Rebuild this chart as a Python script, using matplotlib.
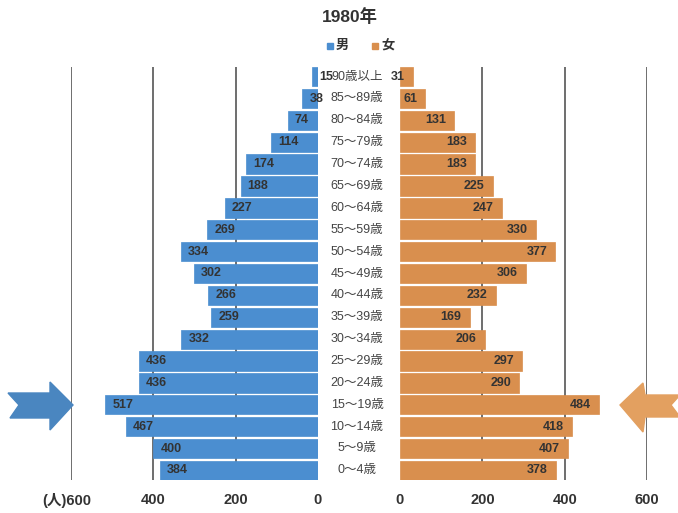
import matplotlib
matplotlib.use("Agg")
import matplotlib.pyplot as plt
from matplotlib.patches import Polygon
from matplotlib.transforms import ScaledTranslation

plt.rcParams['font.family'] = ['Liberation Sans', 'Noto Sans CJK JP', 'DejaVu Sans']

# Population by age group, 1980 (persons)
age_groups = ["0～4歳", "5～9歳", "10～14歳", "15～19歳", "20～24歳", "25～29歳",
              "30～34歳", "35～39歳", "40～44歳", "45～49歳", "50～54歳", "55～59歳",
              "60～64歳", "65～69歳", "70～74歳", "75～79歳", "80～84歳", "85～89歳",
              "90歳以上"]
male = [384, 400, 467, 517, 436, 436, 332, 259, 266, 302, 334, 269,
        227, 188, 174, 114, 74, 38, 15]
female = [378, 407, 418, 484, 290, 297, 206, 169, 232, 306, 377, 330,
          247, 225, 183, 183, 131, 61, 31]
tick_values = [0, 200, 400, 600]
title = "1980年"
legend_labels = ["男", "女"]

W, H = 678, 513
fig = plt.figure(figsize=(W / 100, H / 100), dpi=100)
fig.patch.set_facecolor("white")

blue = "#4b8ed0"
orange = "#d98f4e"
txt = "#333333"
grid_c = "#555555"

ax_top, ax_bot = 67, 480
ax_h = (ax_bot - ax_top) / H
ax_b = (H - ax_bot) / H
axL = fig.add_axes([71 / W, ax_b, (318 - 71) / W, ax_h])
axR = fig.add_axes([400 / W, ax_b, (647 - 400) / W, ax_h])

bh = 0.88
ypos = list(range(len(age_groups)))
for ax, vals, col in ((axL, male, blue), (axR, female, orange)):
    ax.barh(ypos, vals, height=bh, color=col, edgecolor=col, linewidth=0.5, zorder=2)
    ax.set_xlim(0, 600)
    ax.set_ylim(-bh / 2, len(age_groups) - 1 + bh / 2)
    for v in tick_values[1:]:
        ax.axvline(v, color=grid_c, lw=1.2, zorder=1)
    ax.set_xticks(tick_values)
    ax.set_yticks([])
    for s in ax.spines.values():
        s.set_visible(False)
    ax.tick_params(axis="x", length=0, pad=9, labelsize=10.5, labelcolor=txt)
    for lab in ax.get_xticklabels():
        lab.set_fontweight("bold")
axL.invert_xaxis()
axL.set_xticklabels(["0", "200", "400", "(人)600"])
for lab in axL.get_xticklabels():
    lab.set_fontweight("bold")
labs = axL.get_xticklabels()
labs[-1].set_transform(labs[-1].get_transform() + ScaledTranslation(-4 / 100, 0, fig.dpi_scale_trans))

# value labels
for y, v in zip(ypos, male):
    axL.text(v, y, str(v), ha="left", va="center", fontsize=9, fontweight="bold", color=txt,
             transform=axL.transData + ScaledTranslation(7 / 100, 0, fig.dpi_scale_trans), zorder=3)
for y, v in zip(ypos, female):
    axR.text(v, y, str(v), ha="right", va="center", fontsize=9, fontweight="bold", color=txt,
             transform=axR.transData + ScaledTranslation(-8 / 100, 0, fig.dpi_scale_trans), zorder=3)

# age group labels in the centre
row_h = (ax_bot - ax_top) / (len(age_groups) - 1 + bh)
for y, name in zip(ypos, age_groups):
    ypx = ax_bot - (y + bh / 2) * row_h
    fig.text(357 / W, 1 - ypx / H, name, ha="center", va="center", fontsize=9, color="#444444")

# title and legend
fig.text(350 / W, 1 - 17 / H, title, ha="center", va="center", fontsize=12.5, fontweight="bold", color=txt)
for x0, lab, col in ((327, legend_labels[0], blue), (372, legend_labels[1], orange)):
    fig.patches.append(plt.Rectangle((x0 / W, 1 - 49 / H), 6 / W, 6 / H, transform=fig.transFigure,
                                     color=col, figure=fig))
    fig.text((x0 + 9) / W, 1 - 46 / H, lab, ha="left", va="center", fontsize=9.5, fontweight="bold", color=txt)

# decorative arrows marking the 15-19 cohort
def px(points):
    return [(x / W, 1 - y / H) for x, y in points]

blue_arrow = px([(8, 393), (50, 393), (50, 382), (73, 405), (50, 430), (50, 418), (10, 418), (19, 405)])
orange_arrow = px([(620, 405), (643, 383), (645, 395), (680, 395), (671, 405), (680, 417), (645, 417), (643, 432)])
fig.patches.append(Polygon(blue_arrow, closed=True, transform=fig.transFigure, color="#4a86c0", figure=fig))
fig.patches.append(Polygon(orange_arrow, closed=True, transform=fig.transFigure, color="#e3a060", figure=fig))

fig.savefig("out.png", dpi=100, facecolor="white")
